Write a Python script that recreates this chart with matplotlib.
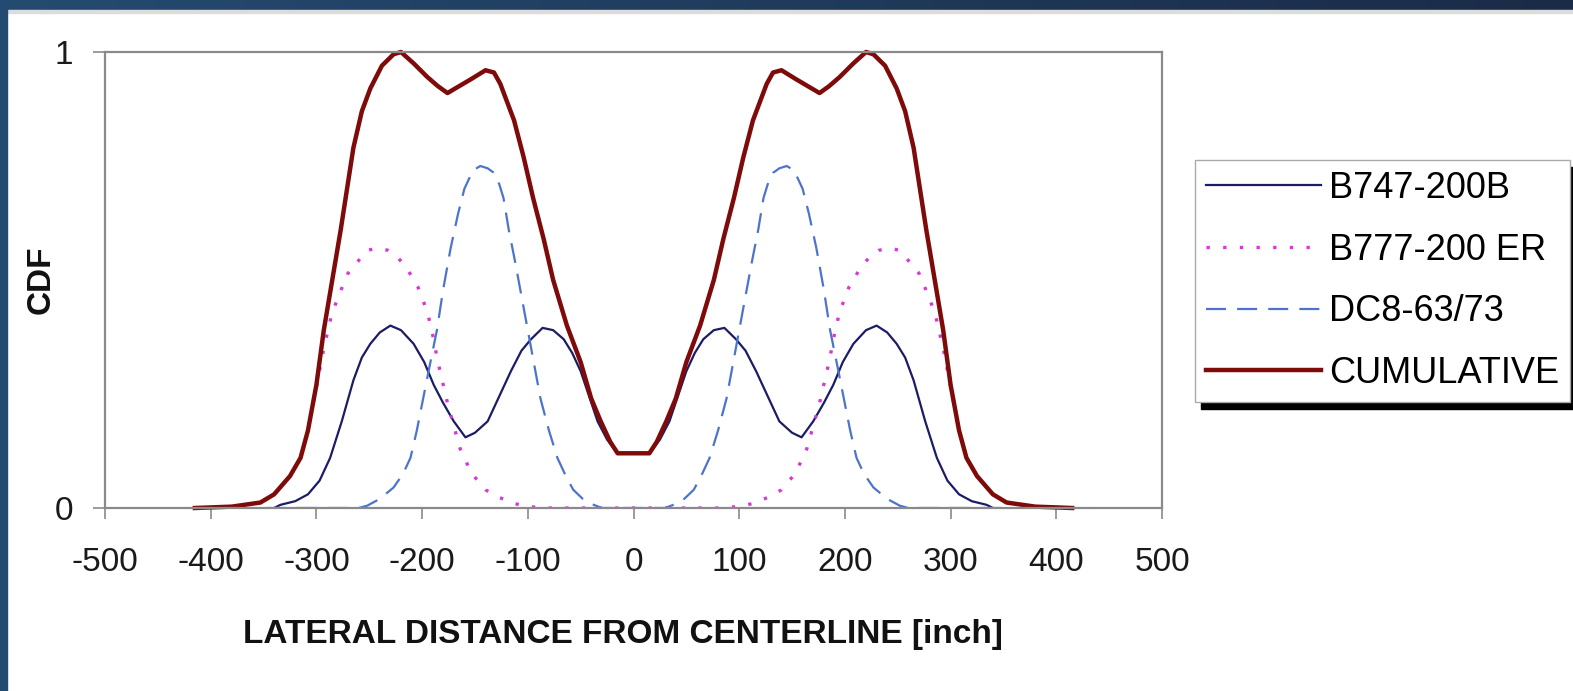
import numpy as np
import matplotlib
matplotlib.use("Agg")
import matplotlib.pyplot as plt
from matplotlib.colors import LinearSegmentedColormap
from matplotlib.patches import Rectangle


# =========================================================
# Data
# =========================================================
B747_X = [-340, -334, -320, -308, -297, -287, -276, -265, -257, -249, -240, -230,
          -220, -208, -198, -189, -180, -170, -159, -150, -138, -127, -116, -106,
          -97, -86, -76, -66, -58, -50, -42, -34, -25, -15,
          15, 25, 34, 42, 50, 58, 66, 76, 86, 97, 106, 116, 127, 138, 150, 159,
          170, 180, 189, 198, 208, 220, 230, 240, 249, 257, 265, 276, 287, 297,
          308, 320, 334, 340]
B747_Y = [0.0, 0.007, 0.015, 0.03, 0.06, 0.11, 0.19, 0.28, 0.33, 0.36, 0.385, 0.40,
          0.39, 0.36, 0.32, 0.27, 0.23, 0.19, 0.155, 0.165, 0.19, 0.245, 0.30, 0.345,
          0.37, 0.395, 0.39, 0.37, 0.34, 0.30, 0.245, 0.19, 0.15, 0.12,
          0.12, 0.15, 0.19, 0.245, 0.30, 0.34, 0.37, 0.39, 0.395, 0.37, 0.345, 0.30,
          0.245, 0.19, 0.165, 0.155, 0.19, 0.23, 0.27, 0.32, 0.36, 0.39, 0.40, 0.385,
          0.36, 0.33, 0.28, 0.19, 0.11, 0.06, 0.03, 0.015, 0.007, 0.0]

B777_X = [-303, -293, -286, -280, -270, -261, -252, -242, -232, -223, -213, -204,
          -195, -190, -185, -180, -176, -170, -164, -157, -151, -140, -129, -113,
          -100, -80,
          80, 100, 113, 129, 140, 151, 157, 164, 170, 176, 180, 185, 190, 195,
          204, 213, 223, 232, 242, 252, 261, 270, 280, 286, 293, 303]
B777_Y = [0.23, 0.35, 0.42, 0.46, 0.515, 0.54, 0.565, 0.57, 0.565, 0.55, 0.52, 0.485,
          0.43, 0.38, 0.32, 0.27, 0.23, 0.18, 0.13, 0.095, 0.07, 0.04, 0.025, 0.01,
          0.003, 0.0,
          0.0, 0.003, 0.01, 0.025, 0.04, 0.07, 0.095, 0.13, 0.18, 0.23, 0.27, 0.32,
          0.38, 0.43, 0.485, 0.52, 0.55, 0.565, 0.57, 0.565, 0.54, 0.515, 0.46, 0.42,
          0.35, 0.23]

DC8_X = [-348, -260, -252, -240, -227, -218, -211, -205, -199, -193, -186, -180,
         -173, -166, -160, -152, -145, -138, -132, -127, -123, -118, -112, -106,
         -100, -94, -88, -80, -72, -64, -57, -48, -41, -30,
         30, 41, 48, 57, 64, 72, 80, 88, 94, 100, 106, 112, 118, 123, 127, 132,
         138, 145, 152, 160, 166, 173, 180, 186, 193, 199, 205, 211, 218, 227,
         240, 252, 260, 348]
DC8_Y = [0.0, 0.0, 0.005, 0.02, 0.045, 0.075, 0.11, 0.17, 0.24, 0.31, 0.39, 0.48,
         0.57, 0.645, 0.70, 0.74, 0.75, 0.745, 0.735, 0.71, 0.68, 0.61, 0.54, 0.465,
         0.39, 0.315, 0.24, 0.17, 0.11, 0.07, 0.04, 0.02, 0.01, 0.0,
         0.0, 0.01, 0.02, 0.04, 0.07, 0.11, 0.17, 0.24, 0.315, 0.39, 0.465, 0.54,
         0.61, 0.68, 0.71, 0.735, 0.745, 0.75, 0.74, 0.70, 0.645, 0.57, 0.48, 0.39,
         0.31, 0.24, 0.17, 0.11, 0.075, 0.045, 0.02, 0.005, 0.0, 0.0]

CUM_X = [-415, -380, -353, -340, -325, -315, -308, -300, -293, -285, -277, -265,
         -257, -249, -238, -227, -220, -208, -195, -185, -176, -165, -154, -140,
         -132, -126, -113, -104, -95, -85, -76, -63, -50, -40, -31, -22, -15,
         15, 22, 31, 40, 50, 63, 76, 85, 95, 104, 113, 126, 132, 140, 154, 165,
         176, 185, 195, 208, 220, 227, 238, 249, 257, 265, 277, 285, 293, 300,
         308, 315, 325, 340, 353, 380, 415]
CUM_Y = [0.0, 0.003, 0.012, 0.03, 0.07, 0.11, 0.17, 0.27, 0.39, 0.50, 0.61, 0.79,
         0.87, 0.92, 0.97, 0.995, 1.0, 0.975, 0.945, 0.925, 0.91, 0.925, 0.94, 0.96,
         0.955, 0.93, 0.85, 0.77, 0.68, 0.59, 0.50, 0.40, 0.32, 0.24, 0.19, 0.145, 0.12,
         0.12, 0.145, 0.19, 0.24, 0.32, 0.40, 0.50, 0.59, 0.68, 0.77, 0.85, 0.93,
         0.955, 0.96, 0.94, 0.925, 0.91, 0.925, 0.945, 0.975, 1.0, 0.995, 0.97, 0.92,
         0.87, 0.79, 0.61, 0.50, 0.39, 0.27, 0.17, 0.11, 0.07, 0.03, 0.012, 0.003, 0.0]

LABELS = ["B747-200B", "B777-200 ER", "DC8-63/73", "CUMULATIVE"]
X_TICKS = [-500, -400, -300, -200, -100, 0, 100, 200, 300, 400, 500]
Y_TICKS = [0, 1]

# =========================================================
# Style
# =========================================================
W, H = 1573, 691
plt.rcParams["font.family"] = ["Liberation Sans", "DejaVu Sans"]
plt.rcParams["axes.unicode_minus"] = False
GREY = "#8a8a8a"


def add_frame(fig):
    # dark blue slide frame: gradient band on top, solid strip on the left
    band = fig.add_axes([0, 1 - 10 / H, 1, 10 / H])
    cmap = LinearSegmentedColormap.from_list("band", ["#254b71", "#1a2b47"])
    band.imshow(np.linspace(0, 1, 256)[None, :], aspect="auto", cmap=cmap)
    band.axis("off")
    fig.patches.append(Rectangle((0, 1 - 13 / H), 1, 3 / H, transform=fig.transFigure,
                                 color="#dcdcdc", zorder=0))
    fig.patches.append(Rectangle((0, 0), 7 / W, 1, transform=fig.transFigure,
                                 color="#234a70", zorder=1))


def main():
    fig = plt.figure(figsize=(W / 100, H / 100), dpi=100)
    ax = fig.add_axes([105 / W, 1 - 508 / H, 1057 / W, 456 / H])

    l1, = ax.plot(B747_X, B747_Y, color="#1c1c66", lw=1.6)
    l2, = ax.plot(B777_X, B777_Y, color="#d63ad6", lw=2.4, linestyle=(0, (1, 4)))
    l3, = ax.plot(DC8_X, DC8_Y, color="#4d74cc", lw=1.6, linestyle=(0, (9, 5)))
    l4, = ax.plot(CUM_X, CUM_Y, color="#7e0a0a", lw=3.2, clip_on=False)

    ax.set_xlim(-500, 500)
    ax.set_ylim(0, 1)
    ax.set_xticks(X_TICKS)
    ax.set_yticks(Y_TICKS)
    ax.set_yticklabels(["0", "1"])

    for sp in ax.spines.values():
        sp.set_color(GREY)
        sp.set_linewidth(1.6)
    ax.tick_params(axis="x", direction="out", length=8, width=1.2, color=GREY,
                   pad=20, labelsize=24, labelcolor="#1a1a1a")
    ax.tick_params(axis="y", direction="out", length=9, width=1.2, color=GREY,
                   pad=14, labelsize=24, labelcolor="#1a1a1a")

    ax.set_xlabel("LATERAL DISTANCE FROM CENTERLINE [inch]", fontsize=24,
                  fontweight="bold", color="#111111")
    ax.xaxis.set_label_coords(0.49, -0.243)
    ax.set_ylabel("CDF", fontsize=24, fontweight="bold", color="#111111")
    ax.yaxis.set_label_coords(-0.046, 0.5)

    leg = fig.legend(
        [l1, l2, l3, l4], LABELS,
        loc="upper left", bbox_to_anchor=(1195 / W, 1 - 160 / H),
        bbox_transform=fig.transFigure, borderaxespad=0,
        fontsize=26, handlelength=3.2, handletextpad=0.22,
        borderpad=0.3, labelspacing=0.74, fancybox=False,
        shadow={"facecolor": "black", "edgecolor": "black", "alpha": 1, "ox": 4, "oy": -5},
    )
    leg.get_frame().set_edgecolor("#aaaaaa")
    leg.get_frame().set_linewidth(1.0)

    add_frame(fig)
    fig.savefig("out.png", dpi=100)
    plt.close(fig)


if __name__ == "__main__":
    main()
